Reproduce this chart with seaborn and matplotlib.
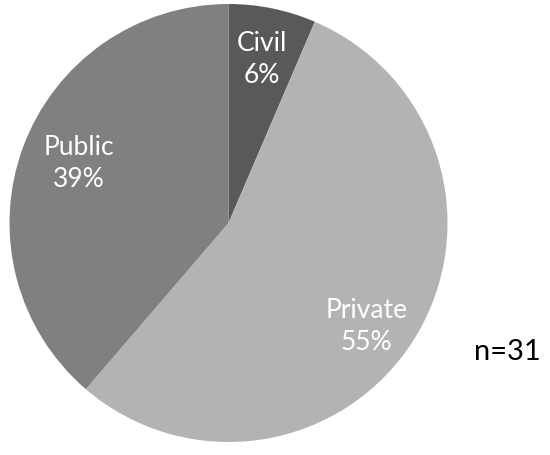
import numpy as np
import seaborn as sns
import matplotlib.pyplot as plt

# data: survey respondents by sector (n=31)
sectors = ["Civil", "Private", "Public"]
counts = [2, 17, 12]
colors = ["#595959", "#b3b3b3", "#808080"]

sns.set_theme(style="white")
plt.rcParams['font.family'] = ['Lato', 'DejaVu Sans']

fig = plt.figure(figsize=(5.5, 4.55), dpi=100)
# pie centre ~ (228, 223) px, radius ~219 px
ax = fig.add_axes([9.5 / 550, 13 / 455, 438 / 550, 438 / 455])

total = sum(counts)
labels = [f"{s}\n{round(c / total * 100)}%" for s, c in zip(sectors, counts)]

wedges, texts = ax.pie(counts, labels=labels, colors=colors, startangle=90,
                       counterclock=False, labeldistance=0.76,
                       wedgeprops=dict(linewidth=0),
                       textprops=dict(color="white", fontsize=19, ha="center",
                                      va="center", multialignment="center",
                                      linespacing=1.35))

# nudge labels like Excel's best-fit placement (distance, angle shift in deg)
nudges = [(0.76, 0), (0.79, -5), (0.735, -1.5)]
for w, t, (d, da) in zip(wedges, texts, nudges):
    ang = np.deg2rad((w.theta1 + w.theta2) / 2 + da)
    t.set_position((d * np.cos(ang), d * np.sin(ang)))

ax.set_xlim(-1, 1)
ax.set_ylim(-1, 1)
ax.set_aspect("equal")

fig.text(507 / 550, 1 - 352 / 455, "n=31", fontsize=21, color="black",
         ha="center", va="center")

plt.savefig("out.png", dpi=100)
